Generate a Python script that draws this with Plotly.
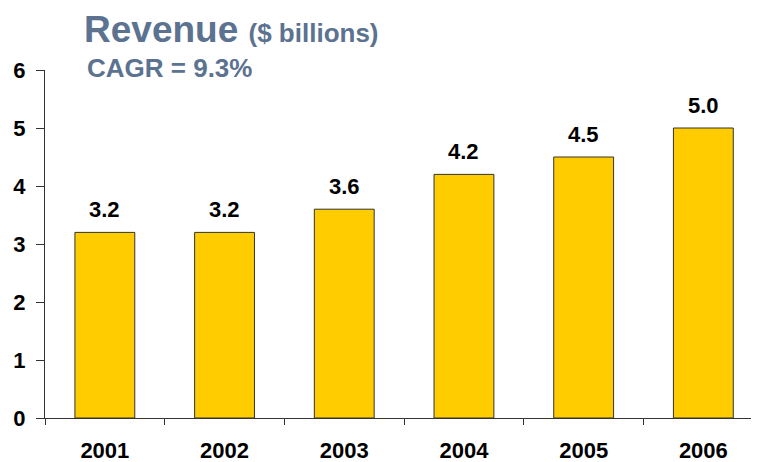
import plotly.graph_objects as go

years = ["2001", "2002", "2003", "2004", "2005", "2006"]
revenue = [3.2, 3.2, 3.6, 4.2, 4.5, 5.0]
labels = ["3.2", "3.2", "3.6", "4.2", "4.5", "5.0"]
y_ticks = [0, 1, 2, 3, 4, 5, 6]

FONT = "Liberation Sans, Arial, sans-serif"
TITLE_COLOR = "#5B7290"

# the page body adds an 8px offset; compensate so the plot lands on the reference pixels
OFF = 8
W, H = 759 - OFF, 462 - OFF
PLOT_LEFT, PLOT_TOP, PLOT_H, PLOT_W = 45, 70, 348, 714
CAT_PX = 119.7

fig = go.Figure()
fig.add_trace(go.Bar(
    x=list(range(len(years))), y=revenue,
    marker=dict(color="#FFCC00", line=dict(color="#333333", width=1)),
    width=0.5,
    hoverinfo="skip",
))

annotations = []
for i, (v, t) in enumerate(zip(revenue, labels)):
    annotations.append(dict(x=i, y=v, xref="x", yref="y", text="<b>%s</b>" % t,
                            showarrow=False, yanchor="bottom", yshift=8,
                            font=dict(family=FONT, size=22, color="black")))

annotations.append(dict(xref="paper", yref="paper",
                        x=(82 - PLOT_LEFT) / PLOT_W, y=1 + (PLOT_TOP - 29) / PLOT_H,
                        xanchor="left", yanchor="middle", showarrow=False,
                        text="<b>Revenue</b> <b><span style='font-size:26px'>($ billions)</span></b>",
                        font=dict(family=FONT, size=37, color=TITLE_COLOR)))
annotations.append(dict(xref="paper", yref="paper",
                        x=(85 - PLOT_LEFT) / PLOT_W, y=1 + (PLOT_TOP - 68) / PLOT_H,
                        xanchor="left", yanchor="middle", showarrow=False,
                        text="<b>CAGR = 9.3%</b>",
                        font=dict(family=FONT, size=26, color=TITLE_COLOR)))

fig.update_layout(
    width=W, height=H,
    margin=dict(l=PLOT_LEFT - OFF, r=0, t=PLOT_TOP - OFF, b=44, autoexpand=False),
    paper_bgcolor="white", plot_bgcolor="white",
    showlegend=False,
    annotations=annotations,
    xaxis=dict(
        type="linear",
        range=[-0.5, -0.5 + PLOT_W / CAT_PX],
        tickvals=list(range(len(years))),
        ticktext=["<b>%s</b>" % y for y in years],
        showline=True, linecolor="#333333", linewidth=1,
        ticks="", showgrid=False, zeroline=False, fixedrange=True,
        ticklabelstandoff=13,
        tickfont=dict(family=FONT, size=22, color="black"),
        minor=dict(tickvals=[i - 0.5 for i in range(len(years) + 1)],
                   ticks="outside", ticklen=6, tickcolor="#333333", showgrid=False),
    ),
    yaxis=dict(
        range=[0, 6],
        tickvals=y_ticks,
        ticktext=["<b>%d</b>" % v for v in y_ticks],
        showline=True, linecolor="#333333", linewidth=1,
        ticks="outside", ticklen=8, tickcolor="#333333",
        ticklabelstandoff=6,
        tickfont=dict(family=FONT, size=22, color="black"),
        showgrid=False, zeroline=False, fixedrange=True,
    ),
)

fig.write_html("out.html")
